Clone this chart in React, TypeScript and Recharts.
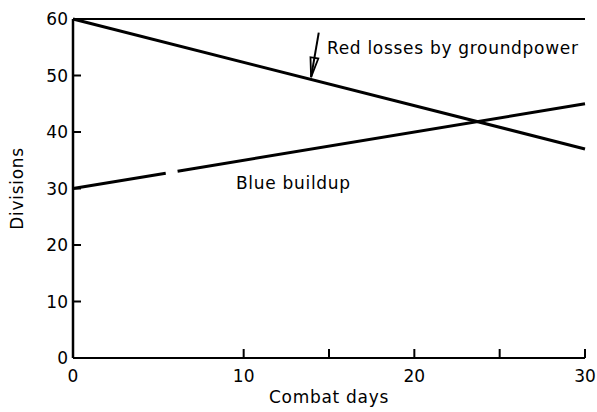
import React from 'react';
import { LineChart, Line, XAxis, YAxis, ReferenceLine, ReferenceDot } from 'recharts';

const days = [0, 30];
const redLosses = [60, 37];
const blueBuildup = [30, 45];
const xTicks = [0, 5, 10, 15, 20, 25, 30];
const yTicks = [0, 10, 20, 30, 40, 50, 60];

const data = days.map((d, i) => ({ day: d, red: redLosses[i], blue: blueBuildup[i] }));

const FONT = '"DejaVu Sans", sans-serif';
const LS = 0.7;

const YTick = (props: any) => {
  const { x, y, payload } = props;
  return (
    <g>
      {payload.value !== 60 && payload.value !== 0 && (
        <line x1={x} y1={y} x2={x + 8} y2={y} stroke="#000" strokeWidth={2} />
      )}
      <text x={x - 5} y={y} dy={6} textAnchor="end" fontFamily={FONT} fontSize={17} fill="#000">
        {payload.value}
      </text>
    </g>
  );
};

const XTick = (props: any) => {
  const { x, y, payload } = props;
  const v = payload.value;
  return (
    <g>
      {v >= 10 && <line x1={x} y1={y} x2={x} y2={y - 9} stroke="#000" strokeWidth={2} />}
      {v % 10 === 0 && (
        <text x={x} y={y} dy={24} textAnchor="middle" fontFamily={FONT} fontSize={17} fill="#000">
          {v}
        </text>
      )}
    </g>
  );
};

const ArrowShape = (props: any) => {
  const { x1, y1, x2, y2 } = props;
  const ang = Math.atan2(y2 - y1, x2 - x1);
  const L = 20;
  const w = 0.2;
  const ax = x2 - L * Math.cos(ang - w);
  const ay = y2 - L * Math.sin(ang - w);
  const bx = x2 - L * Math.cos(ang + w);
  const by = y2 - L * Math.sin(ang + w);
  return (
    <g>
      <line x1={x1} y1={y1} x2={x2} y2={y2} stroke="#000" strokeWidth={2} />
      <polygon points={`${x2},${y2} ${ax},${ay} ${bx},${by}`} fill="none" stroke="#000" strokeWidth={1.8} />
    </g>
  );
};

const textLabel = (text: string) => (p: any) => {
  const vb = p.viewBox || {};
  const cx = vb.x + (vb.width || 0) / 2;
  const cy = vb.y + (vb.height || 0) / 2;
  return (
    <text x={cx} y={cy} dy={6} textAnchor="start" fontFamily={FONT} fontSize={17} letterSpacing={LS} fill="#000">
      {text}
    </text>
  );
};

export default function App() {
  return (
    <div style={{ position: 'absolute', left: 0, top: 0, background: '#fff' }}>
      <LineChart width={597} height={412} data={data} margin={{ top: 19, right: 12, bottom: 4, left: 13 }}>
        <XAxis
          dataKey="day"
          type="number"
          domain={[0, 30]}
          ticks={xTicks}
          interval={0}
          tickSize={0}
          tickMargin={0}
          tickLine={false}
          tick={<XTick />}
          height={50}
          axisLine={{ stroke: '#000', strokeWidth: 2 }}
          label={(p: any) => {
            const vb = p.viewBox || {};
            return (
              <text x={vb.x + vb.width / 2} y={vb.y + 45} textAnchor="middle" fontFamily={FONT} fontSize={17} letterSpacing={LS} fill="#000">
                Combat days
              </text>
            );
          }}
        />
        <YAxis
          type="number"
          domain={[0, 60]}
          ticks={yTicks}
          interval={0}
          tickSize={0}
          tickMargin={0}
          tickLine={false}
          tick={<YTick />}
          width={60}
          axisLine={{ stroke: '#000', strokeWidth: 2.5 }}
          label={(p: any) => {
            const vb = p.viewBox || {};
            const cx = 17;
            const cy = vb.y + vb.height / 2;
            return (
              <text x={cx} y={cy} transform={`rotate(-90 ${cx} ${cy})`} dy={6} textAnchor="middle" fontFamily={FONT} fontSize={17} letterSpacing={LS} fill="#000">
                Divisions
              </text>
            );
          }}
        />
        <ReferenceLine y={60} stroke="#000" strokeWidth={2} />
        <Line dataKey="red" stroke="#000" strokeWidth={3} dot={false} isAnimationActive={false} />
        <Line dataKey="blue" stroke="#000" strokeWidth={3} strokeDasharray="94 12 1000" dot={false} isAnimationActive={false} />
        <ReferenceLine
          segment={[{ x: 14.4, y: 57.6 }, { x: 13.95, y: 49.7 }]}
          shape={<ArrowShape />}
        />
        <ReferenceDot x={14.88} y={54.9} r={0} stroke="none" label={textLabel('Red losses by groundpower')} />
        <ReferenceDot x={9.55} y={31.0} r={0} stroke="none" label={textLabel('Blue buildup')} />
      </LineChart>
    </div>
  );
}
